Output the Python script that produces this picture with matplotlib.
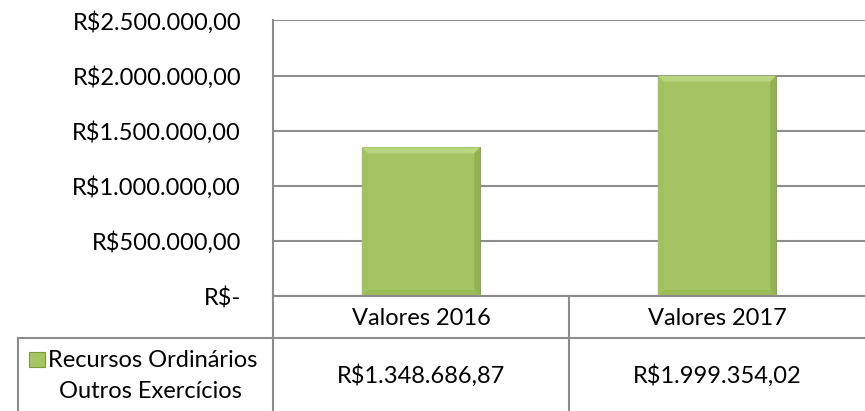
import matplotlib
matplotlib.use("Agg")
import matplotlib.pyplot as plt
from matplotlib.patches import Polygon, Rectangle
from matplotlib.lines import Line2D

categories = ["Valores 2016", "Valores 2017"]
values = [1348686.87, 1999354.02]
value_labels = ["R$1.348.686,87", "R$1.999.354,02"]
series_name = ["Recursos Ordinários", "Outros Exercícios"]
yticks = [0, 500000, 1000000, 1500000, 2000000, 2500000]
ytick_labels = ["R$-", "R$500.000,00", "R$1.000.000,00", "R$1.500.000,00",
                "R$2.000.000,00", "R$2.500.000,00"]

plt.rcParams['font.family'] = ['Lato', 'DejaVu Sans']
FS = 17
W, H = 865, 411
fig = plt.figure(figsize=(W / 100, H / 100), dpi=100)

def fx(px):
    return px / W

def fy(py):
    return 1 - py / H

L, R, T, B = 273, 865, 20.5, 296
ax = fig.add_axes([fx(L), fy(B), fx(R - L), (B - T) / H])
ax.set_xlim(-0.5, len(categories) - 0.5)
ax.set_ylim(0, 2500000)
for s in ax.spines.values():
    s.set_visible(False)
ax.spines['left'].set_visible(True)
ax.spines['left'].set_color('#8c8c8c')
ax.spines['left'].set_linewidth(1.5)
ax.set_yticks(yticks)
ax.set_yticklabels(ytick_labels, fontsize=FS, color='black')
ax.tick_params(axis='y', length=0, pad=23)
ax.set_xticks([])
ax.yaxis.grid(True, color='#8c8c8c', linewidth=1.5)
ax.set_axisbelow(True)

GREEN = '#A5C564'
bw = 0.40
ax.bar(range(len(categories)), values, width=bw, color=GREEN,
       edgecolor='#7a9a40', linewidth=0.6, zorder=3)

# bevel effect
axw = (R - L)
axh = (B - T)
dx = 6 * (1.0 * len(categories)) / axw
dy = 6 * 2500000 / axh
for i, v in enumerate(values):
    x0, x1 = i - bw / 2, i + bw / 2
    top = Polygon([(x0, v), (x1, v), (x1 - dx, v - dy), (x0 + dx, v - dy)],
                  closed=True, facecolor='#B9D57E', edgecolor='none', zorder=4)
    left = Polygon([(x0, 0), (x0, v), (x0 + dx, v - dy), (x0 + dx, dy)],
                   closed=True, facecolor='#A2C260', edgecolor='none', zorder=4)
    right = Polygon([(x1, 0), (x1, v), (x1 - dx, v - dy), (x1 - dx, dy)],
                    closed=True, facecolor='#93B351', edgecolor='none', zorder=4)
    bot = Polygon([(x0, 0), (x1, 0), (x1 - dx, dy), (x0 + dx, dy)],
                  closed=True, facecolor='#9BBB58', edgecolor='none', zorder=4)
    for p in (top, left, right, bot):
        ax.add_patch(p)

# data table lines (figure pixel coordinates)
gc = '#8c8c8c'
lines = [
    ((L, R), (B, B)),
    ((18, R), (338, 338)),
    ((L, L), (B, H)),
    ((569, 569), (B, H)),
    ((18, 18), (338, H)),
]
for xs, ys in lines:
    fig.add_artist(Line2D([fx(x) for x in xs], [fy(y) for y in ys],
                          color=gc, linewidth=1.5))

# category labels and values
for i, (c, vl) in enumerate(zip(categories, value_labels)):
    cx = L + (i + 0.5) * (R - L) / len(categories)
    fig.text(fx(cx), fy(325), c, ha='center', va='baseline', fontsize=FS)
    fig.text(fx(cx), fy(383), vl, ha='center', va='baseline', fontsize=FS)

# legend cell
fig.text(fx(48), fy(367), series_name[0], ha='left', va='baseline', fontsize=FS)
fig.text(fx(150), fy(398), series_name[1], ha='center', va='baseline', fontsize=FS)
fig.add_artist(Rectangle((fx(29), fy(367)), fx(16), 15 / H,
                         facecolor=GREEN, edgecolor='#7a9a40', linewidth=0.8))

fig.savefig("out.png", dpi=100)
